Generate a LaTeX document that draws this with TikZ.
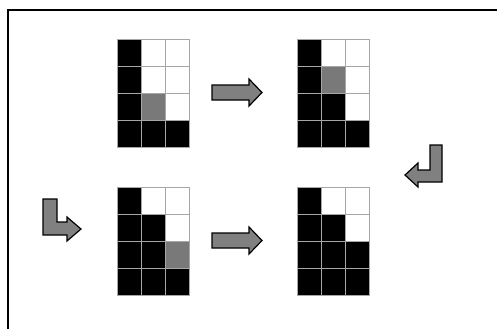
\documentclass[tikz,border=0pt]{standalone}
\begin{document}
\begin{tikzpicture}[x=0.5pt, y=-0.5pt, line join=miter]
    \tikzset{cellB/.style={fill=black}, cellW/.style={fill=white}, cellG/.style={fill=gray!95!black},
             blockarrow/.style={fill=gray, draw=black, line width=0.6pt}}
    \useasboundingbox (0,0) rectangle (497,329);
    % frame
    \draw[line width=0.9pt] (8,329) -- (8,10) -- (497,10);
    % the four grids, cells row by row
    \foreach \gx/\gy/\cells in {117/39/{B,W,W,B,W,W,B,G,W,B,B,B}, 297/39/{B,W,W,B,G,W,B,B,W,B,B,B},
                                117/187/{B,W,W,B,B,W,B,B,G,B,B,B}, 297/187/{B,W,W,B,B,W,B,B,B,B,B,B}}
    {
        \foreach \c [count=\i from 0] in \cells {
            \pgfmathtruncatemacro\col{mod(\i,3)}
            \pgfmathtruncatemacro\row{div(\i,3)}
            \filldraw[cell\c, draw=gray!70, line width=0.5pt] ({\gx+24*\col},{\gy+27*\row}) rectangle ++(24,27);
        }
    }
    % straight arrows
    \foreach \ay in {85,233}
        \draw[blockarrow] (212,\ay) -- ++(37,0) -- ++(0,-6) -- ++(13,13.5) -- ++(-13,13.5) -- ++(0,-6) -- ++(-37,0) -- cycle;
    % bent arrows
    \draw[blockarrow] (43,199) -- (57,199) -- (57,222) -- (67,222) -- (67,217) -- (81,229)
        -- (67,241) -- (67,235) -- (43,235) -- cycle;
    \draw[blockarrow] (442,145) -- (430,145) -- (430,170) -- (418,170) -- (418,163) -- (405,175)
        -- (418,187) -- (418,182) -- (442,182) -- cycle;
\end{tikzpicture}
\end{document}
